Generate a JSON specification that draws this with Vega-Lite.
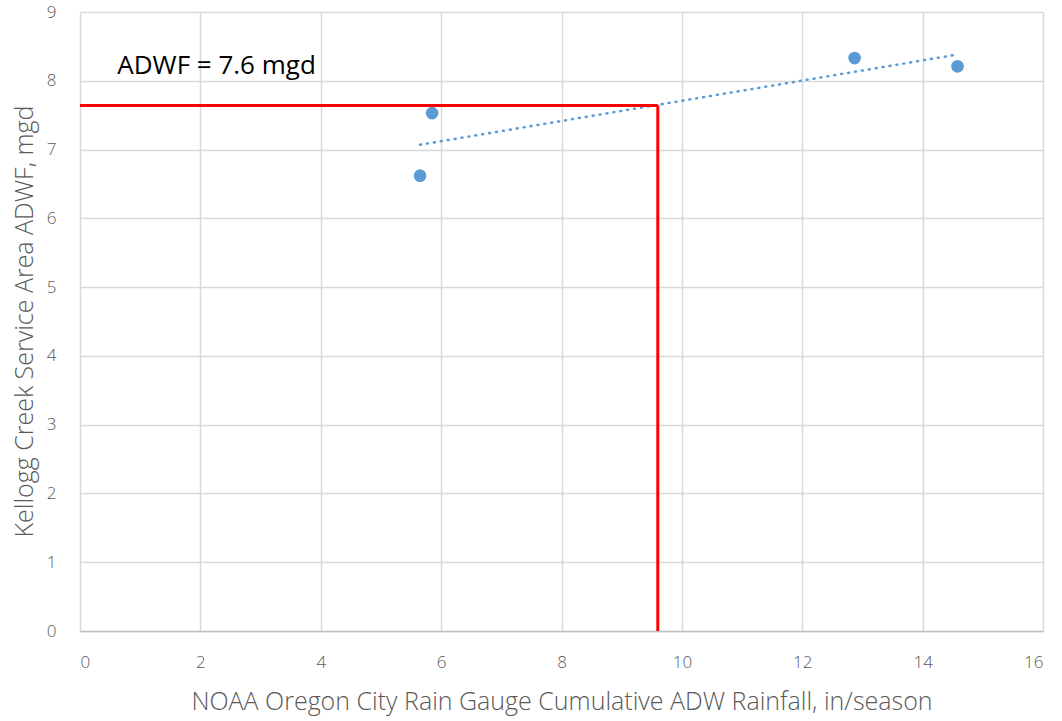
{
  "$schema": "https://vega.github.io/schema/vega-lite/v6.json",
  "width": 963,
  "height": 619,
  "autosize": {"type": "none"},
  "padding": {"left": 80, "top": 12, "right": 19, "bottom": 90},
  "background": "white",
  "config": {
    "view": {"stroke": null},
    "font": "Open Sans",
    "axis": {
      "gridColor": "#d9d9d9",
      "gridWidth": 1.5,
      "ticks": false,
      "labelColor": "#595959",
      "labelFont": "Open Sans",
      "labelFontSize": 17,
      "labelFontWeight": 300,
      "titleColor": "#595959",
      "titleFont": "Open Sans",
      "titleFontSize": 25,
      "titleFontWeight": 300
    }
  },
  "datasets": {
    "points": [
      {"rain": 5.65, "adwf": 6.62},
      {"rain": 5.85, "adwf": 7.53},
      {"rain": 12.87, "adwf": 8.33},
      {"rain": 14.58, "adwf": 8.21}
    ],
    "trend": [
      {"rain": 5.65, "adwf": 7.07},
      {"rain": 14.5, "adwf": 8.37}
    ],
    "hline": [
      {"rain": 0, "adwf": 7.64},
      {"rain": 9.6, "adwf": 7.64}
    ],
    "vline": [
      {"rain": 9.6, "adwf": 0},
      {"rain": 9.6, "adwf": 7.64}
    ],
    "label": [
      {"rain": 0.62, "adwf": 8.21, "text": "ADWF = 7.6 mgd"}
    ]
  },
  "layer": [
    {
      "data": {"name": "points"},
      "mark": {"type": "point", "filled": true, "opacity": 1, "size": 160, "color": "#5b9bd5"},
      "encoding": {
        "x": {
          "field": "rain", "type": "quantitative",
          "scale": {"domain": [0, 16], "nice": false},
          "axis": {
            "values": [0, 2, 4, 6, 8, 10, 12, 14, 16],
            "format": "d",
            "title": "NOAA Oregon City Rain Gauge Cumulative ADW Rainfall, in/season",
            "domain": true,
            "domainColor": "#bfbfbf",
            "domainWidth": 1.5,
            "labelPadding": 23,
            "titleY": 70,
            "titleBaseline": "middle"
          }
        },
        "y": {
          "field": "adwf", "type": "quantitative",
          "scale": {"domain": [0, 9], "nice": false},
          "axis": {
            "values": [0, 1, 2, 3, 4, 5, 6, 7, 8, 9],
            "format": "d",
            "title": "Kellogg Creek Service Area ADWF, mgd",
            "domain": false,
            "labelPadding": 24,
            "titleX": -56,
            "titleY": 309,
            "titleBaseline": "middle",
            "titleAlign": "center"
          }
        }
      }
    },
    {
      "data": {"name": "trend"},
      "mark": {"type": "line", "color": "#5b9bd5", "strokeWidth": 2.5, "strokeDash": [1, 6], "strokeCap": "round"},
      "encoding": {
        "x": {"field": "rain", "type": "quantitative"},
        "y": {"field": "adwf", "type": "quantitative"}
      }
    },
    {
      "data": {"name": "hline"},
      "mark": {"type": "line", "color": "#ff0000", "strokeWidth": 3},
      "encoding": {
        "x": {"field": "rain", "type": "quantitative"},
        "y": {"field": "adwf", "type": "quantitative"}
      }
    },
    {
      "data": {"name": "vline"},
      "mark": {"type": "line", "color": "#ff0000", "strokeWidth": 3},
      "encoding": {
        "x": {"field": "rain", "type": "quantitative"},
        "y": {"field": "adwf", "type": "quantitative"}
      }
    },
    {
      "data": {"name": "label"},
      "mark": {"type": "text", "align": "left", "baseline": "middle", "fontSize": 26, "font": "Open Sans", "color": "#000000"},
      "encoding": {
        "x": {"field": "rain", "type": "quantitative"},
        "y": {"field": "adwf", "type": "quantitative"},
        "text": {"field": "text"}
      }
    }
  ]
}
